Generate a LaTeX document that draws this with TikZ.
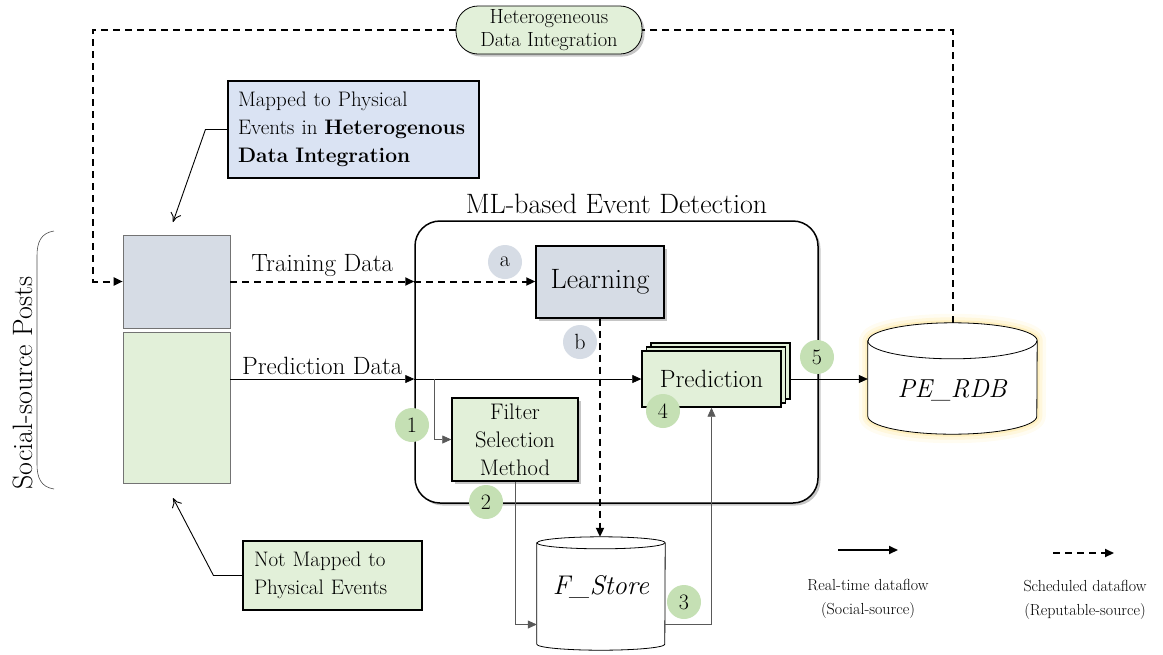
\documentclass[tikz,border=0pt]{standalone}
\usepackage{tikz}
\usetikzlibrary{arrows.meta,shadows,calc,positioning}
\definecolor{bluegray}{HTML}{D6DCE5}
\definecolor{lightblue}{HTML}{DAE3F3}
\definecolor{lightgreen}{HTML}{E2F0D9}
\definecolor{midgreen}{HTML}{C5E0B4}
\definecolor{glow}{HTML}{FFE38A}
\tikzset{
  box/.style={draw, line width=1.4pt, inner sep=0pt},
  shadowed/.style={drop shadow={shadow xshift=2.5pt, shadow yshift=-2.5pt, opacity=0.45}},
  badge/.style={circle, fill=midgreen, minimum size=34pt, inner sep=0pt, font=\fontsize{22}{24}\selectfont},
  greybadge/.style={badge, fill=bluegray},
  tip/.style={-{Triangle[length=9pt,width=8pt]}},
  real/.style={tip, line width=0.7pt},
  side/.style={real, draw=black!65},
  sched/.style={line width=2pt, dash pattern=on 7pt off 5pt},
  pointer/.style={-{To[length=9pt,width=11pt]}, line width=0.9pt},
  legendtext/.style={align=center, font=\fontsize{16}{24}\selectfont}
}
% cylinder outline: node, x radius, y radius
\newcommand{\dbbody}[3]{([yshift=-#3]#1.north west) -- ([yshift=#3]#1.south west)
  arc[start angle=180, end angle=360, x radius=#2, y radius=#3]
  -- ([yshift=-#3]#1.north east)
  arc[start angle=0, end angle=180, x radius=#2, y radius=#3] -- cycle}
\newcommand{\dbrim}[3]{([yshift=-#3]#1.north west) arc[start angle=180, end angle=360, x radius=#2, y radius=#3]}

\begin{document}
\begin{tikzpicture}[x=1pt, y=-1pt]
  \useasboundingbox (0,0) rectangle (1163,654);

  % social-source posts
  \node [box, line width=0.6pt, draw=black!55, fill=bluegray, minimum width=107pt, minimum height=93pt] (train) at (176.5,281.5) {};
  \node [box, line width=0.6pt, draw=black!55, fill=lightgreen, minimum width=107pt, minimum height=151pt] (pdat) at (176.5,407.5) {};
  \draw [black!70, line width=0.6pt] (54,231) .. controls (41,233) and (37,242) .. (37,256) -- (37,464) .. controls (37,478) and (41,487) .. (54,489);
  \node [rotate=90, font=\fontsize{28}{30}\selectfont] (posts) at (23,383) {Social-source Posts};

  % callouts
  \node [box, line width=1.1pt, fill=lightblue, minimum width=251pt, minimum height=97pt, text width=231pt, inner xsep=10pt, align=left, font=\fontsize{21}{28}\selectfont] (mapped) at (353.5,129.5) {Mapped to Physical\\Events in \textbf{Heterogenous}\\\textbf{Data Integration}};
  \node [box, line width=1.1pt, fill=lightgreen, minimum width=179pt, minimum height=69pt, text width=157pt, inner xsep=11pt, align=left, font=\fontsize{21}{28}\selectfont] (notmapped) at (332.5,575.5) {Not Mapped to\\Physical Events};
  \coordinate (mapin) at (173,222);
  \coordinate (notin) at (173,498);
  \draw [pointer] (mapped.west) -- ++(-22,0) -- (mapin);
  \draw [pointer] (notmapped.west) -- ++(-29,0) -- (notin);

  % event detection
  \node [box, line width=1.5pt, rounded corners=25pt, minimum width=403pt, minimum height=282pt, fill=white, shadowed] (ml) at (616.5,362) {};
  \node [above=3pt of ml, font=\fontsize{28}{30}\selectfont] (mltitle) {ML-based Event Detection};
  \node [box, fill=bluegray, minimum width=128pt, minimum height=72pt, shadowed, font=\fontsize{28}{30}\selectfont] (learn) at (600,282) {Learning};
  \node [box, fill=lightgreen, minimum width=139pt, minimum height=56pt, double copy shadow={shadow xshift=4.5pt, shadow yshift=4pt}, font=\fontsize{25}{26}\selectfont] (pred) at (711.5,379) {Prediction};
  \node [box, fill=lightgreen, minimum width=126pt, minimum height=83pt, shadowed, align=center, font=\fontsize{22.5}{28}\selectfont] (filt) at (515,439.5) {Filter\\Selection\\Method};

  % stores
  \node [minimum width=169pt, minimum height=111pt, inner sep=0pt] (pe) at (952.5,378.5) {};
  \node [minimum width=128pt, minimum height=113pt, inner sep=0pt] (fs) at (601,593.5) {};
  \draw [glow, line width=18pt, opacity=0.12, line join=round] \dbbody{pe}{84.5pt}{18pt};
  \draw [glow, line width=11pt, opacity=0.2, line join=round] \dbbody{pe}{84.5pt}{18pt};
  \draw [glow, line width=5pt, opacity=0.35, line join=round] \dbbody{pe}{84.5pt}{18pt};
  \draw [fill=white, line width=0.8pt] \dbbody{pe}{84.5pt}{18pt};
  \draw [line width=0.8pt] \dbrim{pe}{84.5pt}{18pt};
  \draw [fill=white, line width=0.8pt] \dbbody{fs}{64pt}{6pt};
  \draw [line width=0.8pt] \dbrim{fs}{64pt}{6pt};
  \node [font=\fontsize{26}{30}\selectfont] (pelabel) at (952.5,390) {\textit{PE\_RDB}};
  \node [font=\fontsize{27}{30}\selectfont] (fslabel) at (601,587) {\textit{F\_Store}};

  % integration
  \node [box, line width=0.8pt, fill=lightgreen, rounded corners=22pt, minimum width=186pt, minimum height=48pt, shadowed, align=center, font=\fontsize{20.5}{23}\selectfont] (hdi) at (549,30) {Heterogeneous\\Data Integration};

  % scheduled dataflow
  \coordinate (turn) at (93,281.5);
  \coordinate (mlin) at (ml.west |- train.east);
  \draw [sched] (pe.north) |- (hdi.east);
  \draw [sched, tip] (hdi.west) -| (turn) -- (train.west);
  \draw [sched, tip] (train.east) -- node [above=1pt, font=\fontsize{25}{26}\selectfont] {Training Data} (mlin);
  \draw [sched, tip] (mlin) -- (learn.west |- mlin);
  \draw [sched, tip] (learn.south) -- (learn.south |- fs.north);

  % real-time dataflow
  \coordinate (mlpred) at (ml.west |- pred.west);
  \coordinate (split) at (434,379);
  \draw [real] (pdat.east |- pred.west) -- node [above=1pt, font=\fontsize{25}{26}\selectfont] {Prediction Data} (mlpred);
  \draw [real] (mlpred) -- (pred.west);
  \draw [side] (split) |- (filt.west);
  \draw [side] (filt.south) |- ($(fs.west)+(0,31)$);
  \draw [side] ($(fs.east)+(0,30.5)$) -| (pred.south);
  \draw [real] ([xshift=9pt]pred.east) -- (pred.east -| pe.west);

  % steps
  \node [greybadge] (ba) at (505,262) {a};
  \node [greybadge] (bb) at (580,342) {b};
  \node [badge] (b1) at (412,425) {1};
  \node [badge] (b2) at (486,502) {2};
  \node [badge] (b3) at (684,602) {3};
  \node [badge] (b4) at (663,411) {4};
  \node [badge] (b5) at (817,357) {5};

  % legend
  \coordinate (rt1) at (838,550);
  \coordinate (rt2) at (898,550);
  \coordinate (sc1) at (1053,553);
  \coordinate (sc2) at (1114,553);
  \draw [tip, line width=2pt] (rt1) -- (rt2);
  \draw [sched, tip] (sc1) -- (sc2);
  \node [legendtext] (rtlabel) at (868,599) {Real-time dataflow\\(Social-source)};
  \node [legendtext] (sclabel) at (1085,600) {Scheduled dataflow\\(Reputable-source)};
\end{tikzpicture}
\end{document}
